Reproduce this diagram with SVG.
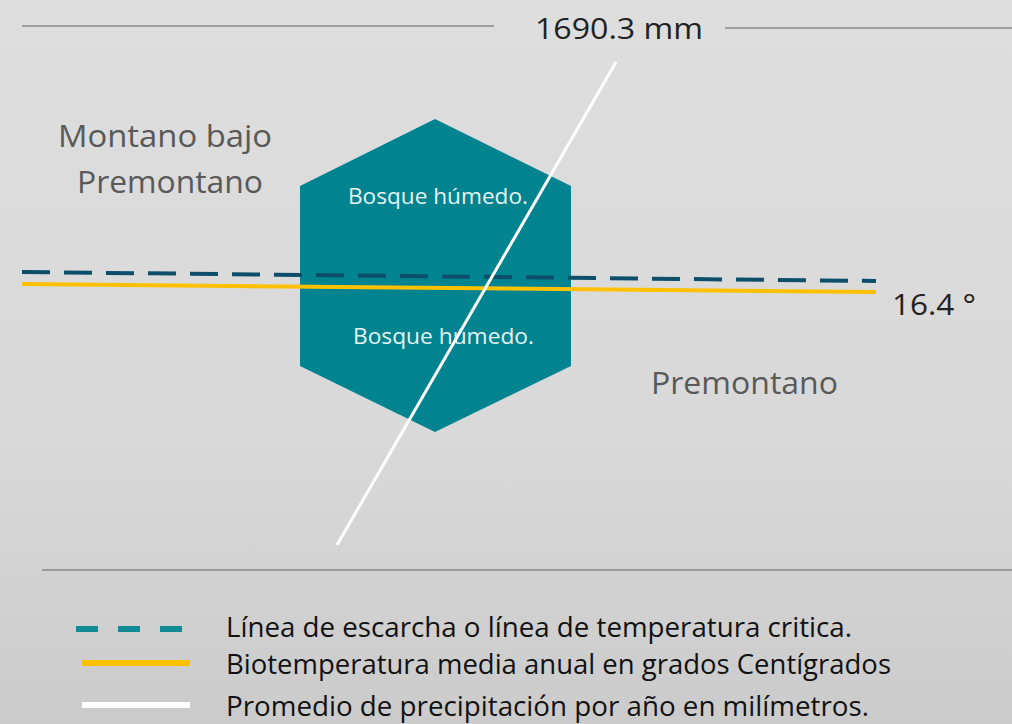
<svg xmlns="http://www.w3.org/2000/svg" width="1012" height="724" viewBox="0 0 1012 724">
  <defs>
    <linearGradient id="bg" x1="0" y1="0" x2="0" y2="1">
      <stop offset="0" stop-color="#dedede"/>
      <stop offset="0.6" stop-color="#d9d9d9"/>
      <stop offset="1" stop-color="#cbcbcb"/>
    </linearGradient>
    <style>
      .rule { stroke: #8a8a8a; stroke-width: 1.5; }
      .zone { font-family: "Open Sans", "Noto Sans", sans-serif; font-size: 31px; fill: #595959; }
      .hex-label { font-family: "Open Sans", "Noto Sans", sans-serif; font-size: 22px; fill: #e6f4f4; }
      .value { font-family: "Open Sans", "Noto Sans", sans-serif; font-size: 29px; fill: #222; }
      .legend { font-family: "Open Sans", "Noto Sans", sans-serif; font-size: 27px; fill: #111; }
    </style>
  </defs>
  <rect width="1012" height="724" fill="url(#bg)"/>

  <g id="rules">
    <line class="rule" x1="22" y1="26" x2="494" y2="26"/>
    <line class="rule" x1="725" y1="28" x2="1012" y2="28"/>
    <line class="rule" x1="42" y1="570" x2="1012" y2="570"/>
  </g>

  <g id="hexagon">
    <polygon points="435,119 571,186 571,366 435,432 300,366 300,186" fill="#028390"/>
    <text class="hex-label" x="348" y="204" textLength="180" lengthAdjust="spacingAndGlyphs">Bosque húmedo.</text>
    <text class="hex-label" x="353" y="344" textLength="181" lengthAdjust="spacingAndGlyphs">Bosque húmedo.</text>
  </g>

  <g id="connectors">
    <line x1="22" y1="272" x2="876" y2="281" stroke="#0d4f6b" stroke-width="4" stroke-dasharray="28 14"/>
    <line x1="22" y1="284" x2="876" y2="292" stroke="#ffc000" stroke-width="4"/>
    <line x1="616" y1="62" x2="337" y2="545" stroke="#ffffff" stroke-width="3"/>
  </g>

  <g id="labels">
    <text class="value" x="535" y="39" textLength="168" lengthAdjust="spacingAndGlyphs">1690.3 mm</text>
    <text class="value" x="892" y="315" textLength="84" lengthAdjust="spacingAndGlyphs">16.4 °</text>
    <text class="zone" x="58" y="147" textLength="214" lengthAdjust="spacingAndGlyphs">Montano bajo</text>
    <text class="zone" x="77" y="193" textLength="186" lengthAdjust="spacingAndGlyphs">Premontano</text>
    <text class="zone" x="651" y="394" textLength="187" lengthAdjust="spacingAndGlyphs">Premontano</text>
  </g>

  <g id="legend">
    <line x1="76" y1="629" x2="186" y2="629" stroke="#128b96" stroke-width="6" stroke-dasharray="22 20"/>
    <line x1="82" y1="663" x2="190" y2="663" stroke="#ffc000" stroke-width="6"/>
    <line x1="82" y1="705" x2="190" y2="705" stroke="#ffffff" stroke-width="6"/>
    <text class="legend" x="226" y="637" textLength="626" lengthAdjust="spacingAndGlyphs">Línea de escarcha o línea de temperatura critica.</text>
    <text class="legend" x="226" y="674" textLength="665" lengthAdjust="spacingAndGlyphs">Biotemperatura media anual en grados Centígrados</text>
    <text class="legend" x="226" y="716" textLength="643" lengthAdjust="spacingAndGlyphs">Promedio de precipitación por año en milímetros.</text>
  </g>
</svg>
